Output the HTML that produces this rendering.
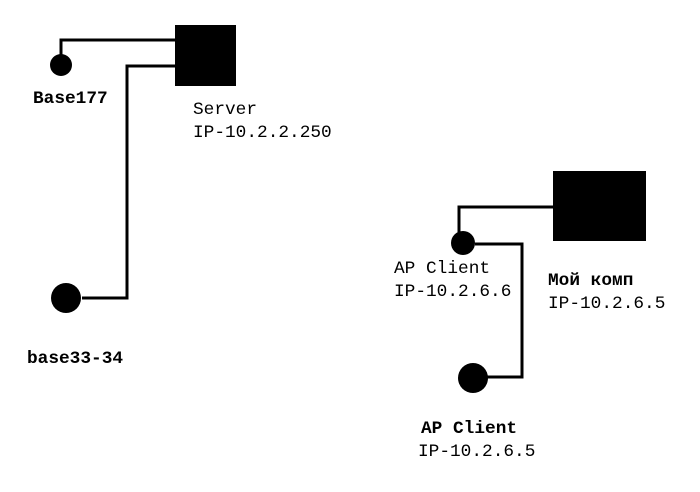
<!DOCTYPE html>
<html><head><meta charset="utf-8"><style>
html,body{margin:0;padding:0;background:#fff;}
svg{display:block;}
text{font-family:"Liberation Mono","DejaVu Sans Mono",monospace;font-size:17.8px;fill:#000;}
.b{font-weight:bold;}
</style></head><body>
<svg width="700" height="492" viewBox="0 0 700 492">
<g stroke="#000" stroke-width="3" fill="none">
<polyline points="61,56 61,40 176,40"/>
<polyline points="82,298 127,298 127,66 176,66"/>
<polyline points="459,234 459,207 554,207"/>
<polyline points="475,244 522,244 522,377 486,377"/>
</g>
<rect x="175" y="25" width="61" height="61" fill="#000"/>
<rect x="553" y="171" width="93" height="70" fill="#000"/>
<circle cx="61" cy="65" r="11" fill="#000"/>
<circle cx="66" cy="298" r="15" fill="#000"/>
<circle cx="463" cy="243" r="12" fill="#000"/>
<circle cx="473" cy="378" r="15" fill="#000"/>
<text x="33" y="103" class="b">Base177</text>
<text x="193" y="114">Server</text>
<text x="193" y="137">IP-10.2.2.250</text>
<text x="27" y="363" class="b">base33-34</text>
<text x="394" y="273">AP Client</text>
<text x="394" y="296">IP-10.2.6.6</text>
<text x="548" y="285" class="b">Мой комп</text>
<text x="548" y="308">IP-10.2.6.5</text>
<text x="421" y="433" class="b">AP Client</text>
<text x="418" y="456">IP-10.2.6.5</text>
</svg>
</body></html>
